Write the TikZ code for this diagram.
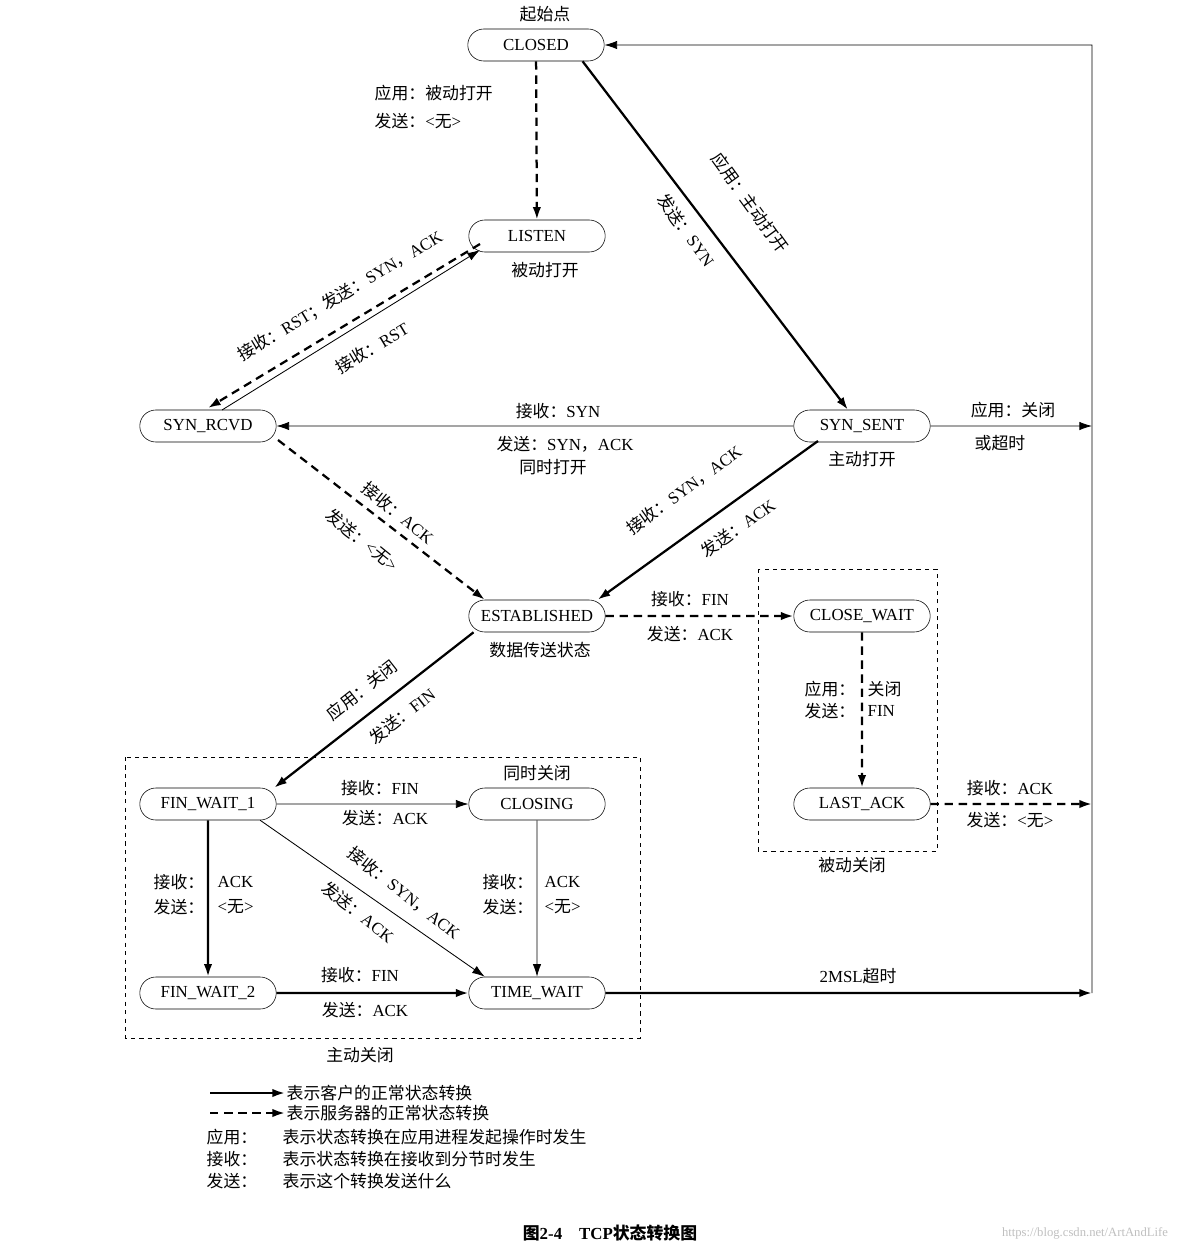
\documentclass[tikz,border=0pt]{standalone}
\usepackage{fontspec}
\setmainfont{Liberation Serif}
\newfontfamily\cjk{Noto Sans CJK SC}
\newcommand\zh[1]{{\cjk #1}}
\usetikzlibrary{arrows.meta,shapes.misc}
\begin{document}
\begin{tikzpicture}[x=0.025cm,y=-0.025cm,font=\fontsize{12}{14}\selectfont,
  st/.style={draw,rounded rectangle,minimum width=3.55cm,minimum height=0.8cm,inner sep=2pt},
  thk/.style={line width=1.6pt,-{Latex[length=9pt,width=6pt]}},
  dsh/.style={line width=1.6pt,dashed,dash pattern=on 6pt off 4pt,-{Latex[length=9pt,width=6pt]}},
  thn/.style={line width=0.6pt,-{Latex[length=9pt,width=6pt]}},
  lb/.style={inner sep=1pt},
  box/.style={draw,dashed,line width=0.6pt}]
\useasboundingbox (0,0) rectangle (1198,1250);
\node[st] (closed) at (536,45) {CLOSED};
\node[st] (listen) at (537,236) {LISTEN};
\node[st] (rcvd) at (208,426) {SYN\_RCVD};
\node[st] (sent) at (862,426) {SYN\_SENT};
\node[st] (est) at (537,616) {ESTABLISHED};
\node[st] (cw) at (862,616) {CLOSE\_WAIT};
\node[st] (fw1) at (208,804) {FIN\_WAIT\_1};
\node[st] (closing) at (537,804) {CLOSING};
\node[st] (la) at (862,804) {LAST\_ACK};
\node[st] (fw2) at (208,993) {FIN\_WAIT\_2};
\node[st] (tw) at (537,993) {TIME\_WAIT};
\coordinate (r1) at (1092,426);
\coordinate (r2) at (1092,804);
\coordinate (r3) at (1092,993);
\coordinate (rtop) at (1092,45);
\coordinate (ls1) at (480,244);
\coordinate (ls2) at (480,250);
\coordinate (rc1) at (208,408);
\coordinate (rc2) at (222,410);
\coordinate (rc3) at (278,440);
\coordinate (ss1) at (818,441);
% boxes
\draw[box] (125,757) rectangle (640,1038);
\draw[box] (758,569) rectangle (937,851);
\node[lb] (t1) at (360,1055) {\zh{主动关闭}};
\node[lb] (t2) at (852,865) {\zh{被动关闭}};
% state captions
\node[lb] (c1) at (545,14) {\zh{起始点}};
\node[lb] (c2) at (545,270) {\zh{被动打开}};
\node[lb] (c3) at (862,459) {\zh{主动打开}};
\node[lb] (c4) at (540,650) {\zh{数据传送状态}};
\node[lb] (c5) at (537,773) {\zh{同时关闭}};
% connectors
\draw[dsh] (closed) -- (listen);
\node[lb,anchor=west] (l1) at (373,93) {\zh{应用：被动打开}};
\node[lb,anchor=west] (l2) at (373,121) {\zh{发送：}<\zh{无}>};
\draw[thk] ([xshift=-4pt]closed.south east) -- ([xshift=-10pt]sent.north);
\node[lb,rotate=-54] (l3) at (750,203) {\zh{应用：主动打开}};
\node[lb,rotate=-54] (l4) at (686,230) {\zh{发送：}SYN};
\draw[dsh] (ls1) -- (rc1);
\draw[thn] (rc2) -- (ls2);
\node[lb,rotate=31] (l5) at (340,296) {\zh{接收：}RST\zh{；发送：}SYN\zh{，}ACK};
\node[lb,rotate=31] (l6) at (372,348) {\zh{接收：}RST};
\draw[thn] (sent) -- (rcvd);
\node[lb] (l7) at (558,411) {\zh{接收：}SYN};
\node[lb] (l8) at (565,444) {\zh{发送：}SYN\zh{，}ACK};
\node[lb] (l9) at (553,467) {\zh{同时打开}};
\node[lb] (l10) at (1013,410) {\zh{应用：关闭}};
\node[lb] (l11) at (1000,443) {\zh{或超时}};
\draw[thn] (sent) -- (r1);
\draw[dsh] (rc3) -- (est.north west);
\node[lb,rotate=-39] (l12) at (398,513) {\zh{接收：}ACK};
\node[lb,rotate=-39] (l13) at (362,540) {\zh{发送：}<\zh{无}>};
\draw[thk] (ss1) -- ([xshift=6pt]est.north east);
\node[lb,rotate=36] (l14) at (684,490) {\zh{接收：}SYN\zh{，}ACK};
\node[lb,rotate=36] (l15) at (738,528) {\zh{发送：}ACK};
\draw[dsh] (est) -- (cw);
\node[lb] (l16) at (690,599) {\zh{接收：}FIN};
\node[lb] (l17) at (690,634) {\zh{发送：}ACK};
\draw[dsh] (cw) -- (la);
\node[lb,anchor=east] (l18) at (857,689) {\zh{应用：}};
\node[lb,anchor=west] (l19) at (866,689) {\zh{关闭}};
\node[lb,anchor=east] (l20) at (857,711) {\zh{发送：}};
\node[lb,anchor=west] (l21) at (866,711) {FIN};
\draw[dsh] (la) -- (r2);
\node[lb] (l22) at (1010,788) {\zh{接收：}ACK};
\node[lb] (l23) at (1010,820) {\zh{发送：}<\zh{无}>};
\draw[thk] ([xshift=-8pt]est.south west) -- ([xshift=10pt]fw1.north east);
\node[lb,rotate=38] (l24) at (362,690) {\zh{应用：关闭}};
\node[lb,rotate=38] (l25) at (402,716) {\zh{发送：}FIN};
\draw[thn] (fw1) -- (closing);
\node[lb] (l26) at (380,788) {\zh{接收：}FIN};
\node[lb] (l27) at (385,818) {\zh{发送：}ACK};
\draw[thk] (fw1) -- (fw2);
\node[lb,anchor=east] (l28) at (206,882) {\zh{接收：}};
\node[lb,anchor=west] (l29) at (216,882) {ACK};
\node[lb,anchor=east] (l30) at (206,907) {\zh{发送：}};
\node[lb,anchor=west] (l31) at (216,907) {<\zh{无}>};
\draw[thn] (closing) -- (tw);
\node[lb,anchor=east] (l32) at (535,882) {\zh{接收：}};
\node[lb,anchor=west] (l33) at (543,882) {ACK};
\node[lb,anchor=east] (l34) at (535,907) {\zh{发送：}};
\node[lb,anchor=west] (l35) at (543,907) {<\zh{无}>};
\draw[thn] (fw1.south east) -- (tw.north west);
\node[lb,rotate=-38] (l36) at (404,893) {\zh{接收：}SYN\zh{，}ACK};
\node[lb,rotate=-38] (l37) at (358,912) {\zh{发送：}ACK};
\draw[thk] (fw2) -- (tw);
\node[lb] (l38) at (360,975) {\zh{接收：}FIN};
\node[lb] (l39) at (365,1010) {\zh{发送：}ACK};
\draw[thk] (tw) -- (r3);
\node[lb] (l40) at (858,976) {2MSL\zh{超时}};
\draw[thn] (r3) -- (rtop) -- (closed);
% legend
\coordinate (g1) at (210,1093); \coordinate (g2) at (285,1093);
\coordinate (g3) at (210,1113); \coordinate (g4) at (285,1113);
\draw[thk] (g1) -- (g2);
\draw[dsh] (g3) -- (g4);
\node[lb,anchor=west] (m1) at (285,1093) {\zh{表示客户的正常状态转换}};
\node[lb,anchor=west] (m2) at (285,1113) {\zh{表示服务器的正常状态转换}};
\node[lb,anchor=west] (m3) at (205,1137) {\zh{应用：}};
\node[lb,anchor=west] (m4) at (205,1159) {\zh{接收：}};
\node[lb,anchor=west] (m5) at (205,1181) {\zh{发送：}};
\node[lb,anchor=west] (m6) at (281,1137) {\zh{表示状态转换在应用进程发起操作时发生}};
\node[lb,anchor=west] (m7) at (281,1159) {\zh{表示状态转换在接收到分节时发生}};
\node[lb,anchor=west] (m8) at (281,1181) {\zh{表示这个转换发送什么}};
\node[lb] (cap) at (610,1233) {\bfseries\zh{图}2-4\quad TCP\zh{状态转换图}};
\node[lb,text=black!25,font=\fontsize{9}{10}\selectfont] (wm) at (1085,1233) {https://blog.csdn.net/ArtAndLife};
\end{tikzpicture}
\end{document}
